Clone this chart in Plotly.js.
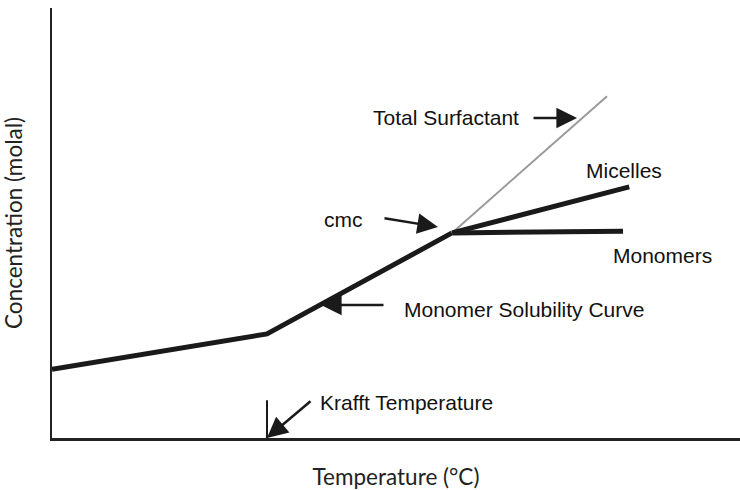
<!DOCTYPE html>
<html>
<head>
<meta charset="utf-8">
<script src="https://cdn.plot.ly/plotly-3.0.1.min.js"></script>
<style>html,body{margin:0;padding:0;background:#fff;}#chart{width:740px;height:490px;}</style>
</head>
<body>
<div id="chart"></div>
<script>
// Data (temperature / concentration in arbitrary relative units, 0-100)
const solubilityTemp = [0, 31.25, 58.14];
const solubilityConc = [16.0, 24.2, 47.7];
const totalTemp = [58.14, 80.67];
const totalConc = [47.7, 79.5];
const micellesTemp = [58.14, 83.9];
const micellesConc = [47.7, 58.4];
const monomersTemp = [58.3, 83.0];
const monomersConc = [47.7, 48.1];
const krafftTemp = [31.25, 31.25];
const krafftConc = [0, 8.8];

// Labels: [text, x, y]
const labelTexts = ["Total Surfactant", "cmc", "Micelles", "Monomers", "Monomer Solubility Curve", "Krafft Temperature"];
const labelX = [57.3, 42.4, 83.2, 88.8, 68.6, 51.5];
const labelY = [74.6, 50.8, 62.2, 42.4, 29.9, 8.3];

// Arrows: tip (x,y) and tail (ax,ay)
const arrowTipX = [76.31, 56.10, 39.1, 31.25];
const arrowTipY = [74.42, 49.07, 30.93, 0];
const arrowTailX = [69.77, 48.11, 48.4, 37.79];
const arrowTailY = [74.42, 51.16, 30.93, 8.84];

const black = '#1a1a1a';
const traces = [
  {x: solubilityTemp, y: solubilityConc, mode: 'lines', line: {color: black, width: 5}},
  {x: totalTemp, y: totalConc, mode: 'lines', line: {color: '#999999', width: 2}},
  {x: micellesTemp, y: micellesConc, mode: 'lines', line: {color: black, width: 5}},
  {x: monomersTemp, y: monomersConc, mode: 'lines', line: {color: black, width: 5}},
  {x: krafftTemp, y: krafftConc, mode: 'lines', line: {color: black, width: 2}}
];

const annotations = [];
labelTexts.forEach((t, i) => {
  annotations.push({x: labelX[i], y: labelY[i], xref: 'x', yref: 'y', text: t, showarrow: false,
    xanchor: 'center', yanchor: 'middle',
    font: {family: 'Liberation Sans, Arial, sans-serif', size: 21, color: '#111'}});
});
arrowTipX.forEach((x, i) => {
  annotations.push({x: x, y: arrowTipY[i], ax: arrowTailX[i], ay: arrowTailY[i],
    xref: 'x', yref: 'y', axref: 'x', ayref: 'y', text: '', showarrow: true,
    arrowhead: 2, arrowsize: 1.65, arrowwidth: 2.5, arrowcolor: black, standoff: 0});
});

const axisCommon = {range: [0, 100], showgrid: false, zeroline: false, showticklabels: false,
  ticks: '', showline: true, linecolor: '#222', linewidth: 2.5, fixedrange: true};

const titleFont = {family: 'Lato, sans-serif', size: 22.5, color: '#222'};
const layout = {
  width: 740, height: 490,
  margin: {l: 52, r: 0, t: 8, b: 52},
  paper_bgcolor: '#fff', plot_bgcolor: '#fff',
  showlegend: false,
  xaxis: Object.assign({}, axisCommon, {
    title: {text: 'Temperature (°C)', standoff: 31, font: titleFont},
    automargin: false}),
  yaxis: Object.assign({}, axisCommon, {
    title: {text: 'Concentration (molal)', standoff: 25, font: titleFont},
    automargin: false}),
  annotations: annotations
};

Plotly.newPlot('chart', traces, layout, {displayModeBar: false, staticPlot: true});
</script>
</body>
</html>
